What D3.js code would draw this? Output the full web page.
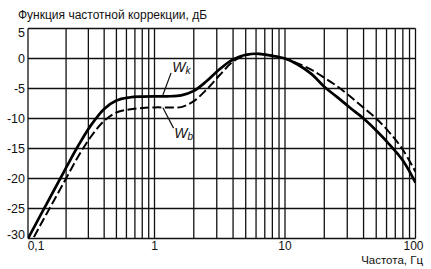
<!DOCTYPE html>
<html><head><meta charset="utf-8">
<script src="https://cdn.jsdelivr.net/npm/d3@7"></script>
<style>body{margin:0;background:#fff}svg{display:block}text{font-family:"Liberation Sans",Arial,sans-serif;fill:#111}</style>
</head><body>
<script>
const freqs = [0.1,0.125,0.16,0.2,0.25,0.315,0.4,0.5,0.63,0.8,1,1.25,1.6,2,2.5,3.15,4,5,6.3,8,10,12.5,16,20,25,31.5,40,50,63,80,100];
const wk = [-30,-26.2,-22.0,-18.2,-14.5,-11.1,-8.4,-7.0,-6.5,-6.35,-6.3,-6.3,-6.15,-5.4,-3.8,-1.8,-0.15,0.62,0.78,0.45,0,-1.0,-2.6,-4.7,-6.4,-8.2,-10,-12,-14.3,-17.0,-20.7];
const wb = [-31.6,-27.8,-23.7,-20,-16.3,-13.0,-10.4,-9.0,-8.5,-8.25,-8.15,-8.15,-8.1,-7.1,-5.2,-2.8,-0.5,0.55,0.78,0.45,0,-0.8,-1.9,-3.2,-4.6,-6.3,-8.2,-10,-12.3,-15.2,-18.9];
const yTicks = [5,0,-5,-10,-15,-20,-25,-30];
const xLabels = [[0.1,"0,1"],[1,"1"],[10,"10"],[100,"100"]];
const xGrid = [0.1,0.2,0.3,0.4,0.5,0.6,0.7,0.8,0.9,1,2,3,4,5,6,7,8,9,10,20,30,40,50,60,70,80,90,100];
const titleText = "Функция частотной коррекции, дБ";
const xTitle = "Частота, Гц";
const annotations = [
  {w:"W", sub:"k", f:1.37, db:-2.2, l:[[1.15,-6.3],[1.34,-2.4]]},
  {w:"W", sub:"b", f:1.42, db:-13.3, l:[[1.16,-8.2],[1.4,-11.6]]}
];

const W=431,H=269;
const svg=d3.select("body").append("svg").attr("width",W).attr("height",H);
const x=d3.scaleLog().domain([0.1,1,10,100]).range([28,154.5,285,415.5]);
const y=d3.scaleLinear().domain([-30,5]).range([238.5,28.5]);

const g=svg.append("g");
g.selectAll("line.h").data(yTicks).join("line")
 .attr("x1",x(0.1)).attr("x2",x(100)).attr("y1",d=>y(d)).attr("y2",d=>y(d))
 .attr("stroke","#111").attr("stroke-width",1.3);
g.selectAll("line.v").data(xGrid).join("line").attr("class","v")
 .attr("x1",d=>x(d)).attr("x2",d=>x(d)).attr("y1",y(5)).attr("y2",y(-30))
 .attr("stroke","#111").attr("stroke-width",1.3);

svg.append("defs").append("clipPath").attr("id","clip").append("rect")
 .attr("x",x(0.1)).attr("y",y(5)).attr("width",x(100)-x(0.1)).attr("height",y(-30)-y(5));

const line=d3.line().x((d,i)=>x(freqs[i])).y(d=>y(d)).curve(d3.curveCatmullRom.alpha(0.5));
svg.append("path").attr("d",line(wb)).attr("fill","none").attr("stroke","#000")
 .attr("stroke-width",2).attr("stroke-dasharray","9,3.5").attr("clip-path","url(#clip)");
svg.append("path").attr("d",line(wk)).attr("fill","none").attr("stroke","#000")
 .attr("stroke-width",2.7).attr("clip-path","url(#clip)");

svg.selectAll("text.yl").data(yTicks).join("text")
 .attr("x",25).attr("y",d=>y(d)+ (d===5?8.5:d===-30?0:4.5))
 .attr("text-anchor","end").attr("font-size",12.5).text(d=>d);
svg.selectAll("text.xl").data(xLabels).join("text")
 .attr("x",d=>x(d[0])+(d[0]===0.1?8:d[0]===100?-2:0)).attr("y",250)
 .attr("text-anchor","middle").attr("font-size",12).text(d=>d[1]);
svg.append("text").attr("x",423).attr("y",264).attr("text-anchor","end").attr("font-size",11.5).text(xTitle);
svg.append("text").attr("x",18).attr("y",19).attr("font-size",12).text(titleText);

annotations.forEach(a=>{
  svg.append("line").attr("x1",x(a.l[0][0])).attr("y1",y(a.l[0][1]))
   .attr("x2",x(a.l[1][0])).attr("y2",y(a.l[1][1])).attr("stroke","#111").attr("stroke-width",1.2);
  const t=svg.append("text").attr("x",x(a.f)).attr("y",y(a.db)).attr("font-size",14).attr("font-style","italic");
  t.append("tspan").text(a.w);
  t.append("tspan").attr("font-size",10).attr("dy",2).text(a.sub);
});
</script>
</body></html>
